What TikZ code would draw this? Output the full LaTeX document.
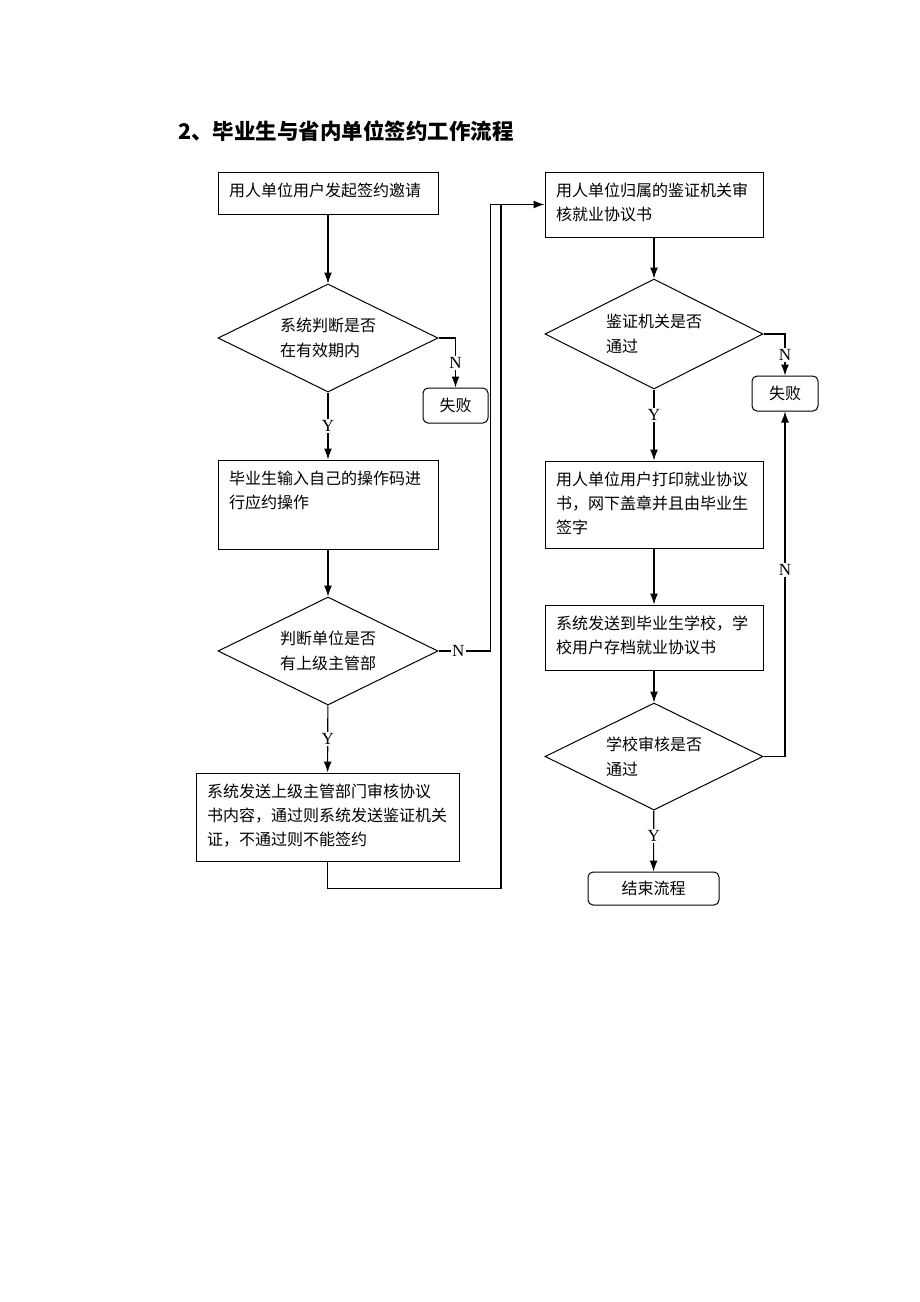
\documentclass[tikz,border=0pt]{standalone}
\usepackage{fontspec}
\usepackage{tikz}
\usetikzlibrary{shapes,arrows.meta,positioning}
\newfontfamily\cjk{Noto Sans CJK SC}
\newfontfamily\latin{Liberation Serif}
\newcommand{\boxlines}[3]{\parbox[c][#1pt][t]{#2pt}{\raggedright\vspace*{11pt}#3}}

\tikzset{
  box/.style={draw, line width=1pt, inner xsep=11pt, inner ysep=0pt,
    font=\cjk\fontsize{16}{24}\selectfont},
  decide/.style={draw, diamond, line width=1pt, inner sep=0pt, aspect=2,
    minimum width=220pt, minimum height=108pt, align=left,
    font=\cjk\fontsize{16}{25}\selectfont},
  endbox/.style={draw, rounded corners=5pt, line width=1pt, minimum height=35pt,
    font=\cjk\fontsize{16}{20}\selectfont},
  lab/.style={fill=white, inner sep=1.5pt, font=\latin\fontsize{17}{18}\selectfont},
  line/.style={line width=1.1pt, -{Latex[length=11pt,width=8pt]}}
}

\begin{document}
\begin{tikzpicture}[x=1pt, y=-1pt]
\useasboundingbox (0,0) rectangle (920,1302);

\node[anchor=west, inner sep=0pt, font=\cjk\bfseries\fontsize{21.5}{24}\selectfont]
	(title) at (178,131) {2、毕业生与省内单位签约工作流程};

% left column
\node[box] (invite) at (328,193) {\boxlines{42}{198}{用人单位用户发起签约邀请}};
\node[decide] (valid) at (328,338) {系统判断是否\\在有效期内};
\node[endbox, minimum width=65pt] (fail1) at (455.5,405.5) {失败};
\node[box] (input) at (328,504.5) {\boxlines{89}{198}{毕业生输入自己的操作码进\\行应约操作}};
\node[decide] (upper) at (328,651) {判断单位是否\\有上级主管部};
\node[box] (review) at (327.5,817) {\boxlines{88}{241}{系统发送上级主管部门审核协议\\书内容，通过则系统发送鉴证机关\\证，不通过则不能签约}};

% right column
\node[box] (verify) at (654,204.5) {\boxlines{65}{196}{用人单位归属的鉴证机关审\\核就业协议书}};
\node[decide, minimum width=218pt, minimum height=110pt] (cert) at (654,334) {鉴证机关是否\\通过};
\node[endbox, minimum width=66pt] (fail2) at (785,393.5) {失败};
\node[box] (print) at (654,504.5) {\boxlines{87}{196}{用人单位用户打印就业协议\\书，网下盖章并且由毕业生\\签字}};
\node[box] (archive) at (654,637.5) {\boxlines{65}{196}{系统发送到毕业生学校，学\\校用户存档就业协议书}};
\node[decide, minimum width=218pt, minimum height=107pt] (school) at (654,756.5) {学校审核是否\\通过};
\node[endbox, minimum width=131pt, minimum height=33pt] (finish) at (653.5,888.5) {结束流程};

\coordinate (join) at (501,204.5);

% connectors
\draw[line] (invite) -- (valid);
\draw[line] (valid.east) -| node[lab, pos=0.75] {N} (fail1.north);
\draw[line] (valid) -- node[lab] {Y} (input);
\draw[line] (input) -- (upper);
\draw[line] (upper) -- node[lab] {Y} (review);
\draw[line] (upper.east) -- node[lab, pos=0.38] {N} ++(52,0) |- (verify.west);
\draw[line width=1.1pt] (review.south) -- ++(0,27) -| (join);

\draw[line] (verify) -- (cert);
\draw[line] (cert.east) -| node[lab, pos=0.75] {N} (fail2.north);
\draw[line] (cert) -- node[lab, pos=0.36] {Y} (print);
\draw[line] (print) -- (archive);
\draw[line] (archive) -- (school);
\draw[line] (school.east) -| node[lab, pos=0.77] {N} (fail2.south);
\draw[line] (school) -- node[lab, pos=0.42] {Y} (finish);
\end{tikzpicture}
\end{document}
